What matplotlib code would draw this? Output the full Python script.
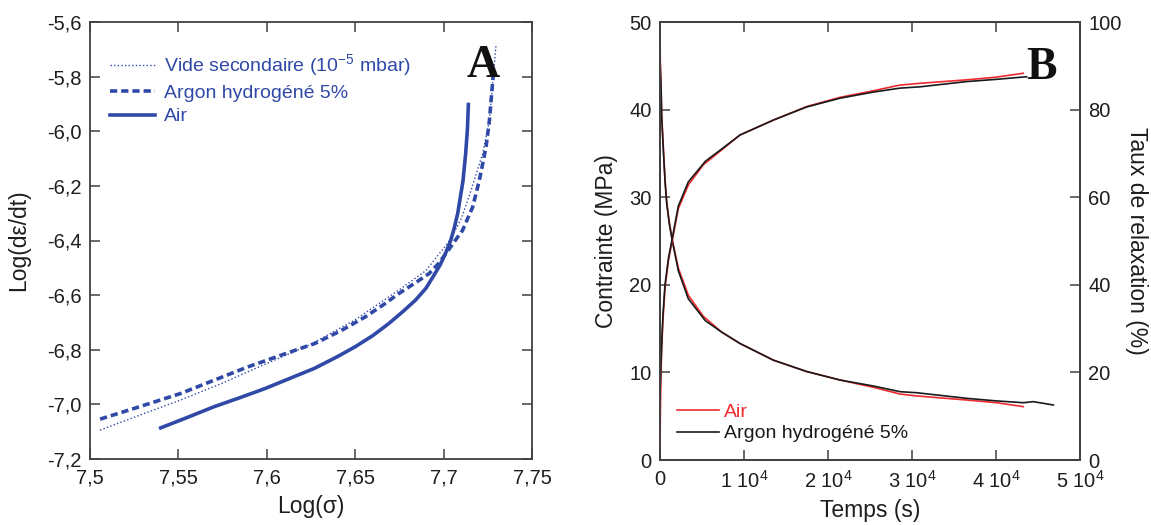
import matplotlib
matplotlib.use("Agg")
import matplotlib.pyplot as plt

plt.rcParams['font.family'] = ['Liberation Sans', 'DejaVu Sans']
plt.rcParams['mathtext.fontset'] = 'custom'
plt.rcParams['mathtext.rm'] = 'Liberation Sans'
plt.rcParams['mathtext.it'] = 'Liberation Sans:italic'

# ---------------- Panel A data ----------------
vide_x = [7.5057, 7.53, 7.5513, 7.575, 7.60, 7.625, 7.65, 7.675, 7.69, 7.7036, 7.71, 7.7149, 7.7221, 7.7259, 7.7297]
vide_y = [-7.094, -7.035, -6.984, -6.922, -6.850, -6.780, -6.690, -6.580, -6.510, -6.399, -6.32, -6.229, -6.082, -5.961, -5.680]

argon_x = [7.5057, 7.52, 7.535, 7.5513, 7.57, 7.5892, 7.608, 7.6272, 7.642, 7.6556, 7.666, 7.6747, 7.684,
           7.6918, 7.697, 7.7013, 7.706, 7.7107, 7.7164, 7.7202, 7.724, 7.7259, 7.7278, 7.728]
argon_y = [-7.054, -7.025, -6.994, -6.960, -6.912, -6.863, -6.820, -6.777, -6.730, -6.680, -6.635, -6.594, -6.555,
           -6.521, -6.485, -6.448, -6.405, -6.363, -6.278, -6.180, -6.058, -5.961, -5.814, -5.800]

air_x = [7.540, 7.555, 7.570, 7.585, 7.599, 7.613, 7.627, 7.640, 7.650, 7.660, 7.669, 7.677, 7.684, 7.690,
         7.694, 7.698, 7.701, 7.704, 7.706, 7.708, 7.7095, 7.711, 7.7125, 7.7135, 7.714]
air_y = [-7.086, -7.048, -7.009, -6.975, -6.942, -6.905, -6.868, -6.825, -6.789, -6.748, -6.704, -6.660, -6.619,
         -6.575, -6.533, -6.490, -6.448, -6.400, -6.355, -6.300, -6.240, -6.180, -6.080, -5.990, -5.902]

xticksA = [7.5, 7.55, 7.6, 7.65, 7.7, 7.75]
xlabelsA = ["7,5", "7,55", "7,6", "7,65", "7,7", "7,75"]
yticksA = [-7.2, -7.0, -6.8, -6.6, -6.4, -6.2, -6.0, -5.8, -5.6]
ylabelsA = ["-7,2", "-7,0", "-6,8", "-6,6", "-6,4", "-6,2", "-6,0", "-5,8", "-5,6"]

# ---------------- Panel B data ----------------
# stress (MPa) vs time (s)
t_air_s = [0, 40, 119, 198, 397, 600, 795, 1100, 1468, 2183, 3373, 5160, 7340, 9524, 13490, 17460, 21430,
           25390, 28570, 30560, 36510, 40000, 43250]
s_air = [48.5, 45.5, 43.2, 39.4, 35.6, 32.0, 29.5, 27.2, 25.1, 21.9, 18.8, 16.4, 14.6, 13.3, 11.4, 10.1, 9.13,
         8.30, 7.53, 7.31, 6.85, 6.55, 6.09]
t_ar_s = [0, 40, 119, 198, 397, 600, 795, 1100, 1468, 2183, 3373, 5400, 7340, 9524, 13490, 17460, 21430,
          25390, 28570, 30560, 36510, 40000, 43250, 44440, 46830]
s_ar = [46.0, 44.5, 42.8, 39.2, 35.4, 31.8, 29.3, 27.0, 25.0, 21.6, 18.4, 15.9, 14.6, 13.3, 11.4, 10.1, 9.13,
        8.45, 7.80, 7.68, 7.04, 6.75, 6.54, 6.66, 6.28]

# relaxation rate (%) vs time (s)
t_air_r = [0, 40, 100, 198, 350, 595, 1000, 1428, 2183, 3373, 5160, 7340, 9524, 13490, 17460, 21430, 25390,
           28570, 30950, 36510, 40000, 43250]
r_air = [2.0, 10.0, 18.0, 25.5, 32.0, 39.2, 45.5, 49.8, 57.4, 62.8, 67.4, 70.8, 74.2, 77.6, 80.7, 82.8, 84.3,
         85.6, 86.0, 86.8, 87.4, 88.3]
t_ar_r = [0, 40, 100, 198, 350, 595, 1000, 1428, 2183, 3373, 5400, 7340, 9524, 13490, 17460, 21430, 25390,
          28570, 30950, 36510, 40000, 43650]
r_ar = [14.0, 17.0, 21.0, 26.5, 33.0, 40.0, 46.0, 50.3, 58.0, 63.5, 68.2, 71.0, 74.2, 77.6, 80.6, 82.6, 84.0,
        84.9, 85.2, 86.4, 86.9, 87.5]

xticksB = [0, 10000, 20000, 30000, 40000, 50000]
xlabelsB = ["0", r"1 10$^{4}$", r"2 10$^{4}$", r"3 10$^{4}$", r"4 10$^{4}$", r"5 10$^{4}$"]

blue = "#3049a6"
red = "#ee2a2e"
black = "#1a1a1a"
spine_c = "#404040"
txt_c = "#1e1e1e"

fig = plt.figure(figsize=(11.51, 5.25), dpi=100)

def style(ax):
    for s in ax.spines.values():
        s.set_color(spine_c)
        s.set_linewidth(1.3)
    ax.tick_params(direction='in', length=7, width=1.1, colors=spine_c, labelcolor=txt_c, labelsize=14.5)

# ---------------- Panel A ----------------
axA = fig.add_axes([90/1151, 1-459/525, 442/1151, 437/525])
axA.plot(vide_x, vide_y, color=blue, lw=1.0, ls=(0, (1, 1.6)), label="Vide secondaire (10$^{\\mathrm{-5}}$ mbar)")
axA.plot(argon_x, argon_y, color=blue, lw=2.6, ls=(0, (2.0, 1.1)), label="Argon hydrogéné 5%")
axA.plot(air_x, air_y, color=blue, lw=2.6, label="Air")
axA.set_xlim(7.5, 7.75)
axA.set_ylim(-7.2, -5.6)
axA.set_xticks(xticksA)
axA.set_xticklabels(xlabelsA)
axA.set_yticks(yticksA)
axA.set_yticklabels(ylabelsA)
style(axA)
axA.tick_params(top=True, right=True)
axA.tick_params(axis='x', pad=7)
axA.tick_params(axis='y', pad=6)
axA.set_xlabel("Log(σ)", fontsize=16.5, color=txt_c, labelpad=5)
axA.set_ylabel("Log(dε/dt)", fontsize=16.5, color=txt_c, labelpad=12)
legA = axA.legend(loc='upper left', bbox_to_anchor=(0.045, 0.93), frameon=False, fontsize=14,
                  handlelength=2.3, handletextpad=0.5, labelspacing=0.3, borderaxespad=0, borderpad=0)
for txt in legA.get_texts():
    txt.set_color(blue)
axA.text(0.889, 0.8735, "A", transform=axA.transAxes, fontsize=33, fontweight='bold',
         family='Liberation Serif', ha='center', va='baseline', color='#111111')

# ---------------- Panel B ----------------
axB = fig.add_axes([660/1151, 1-460/525, 420/1151, 438/525])
axB.plot(t_air_s, s_air, color=red, lw=1.2, label="Air")
axB.plot(t_ar_s, s_ar, color=black, lw=1.2, label="Argon hydrogéné 5%")
axB.set_xlim(0, 50000)
axB.set_ylim(0, 50)
axB.set_xticks(xticksB)
axB.set_xticklabels(xlabelsB)
axB.set_yticks([0, 10, 20, 30, 40, 50])
style(axB)
axB.tick_params(top=True)
axB.tick_params(axis='x', pad=7)
axB.tick_params(axis='y', pad=6)
axB.set_xlabel("Temps (s)", fontsize=16.5, color=txt_c, labelpad=5)
axB.set_ylabel("Contrainte (MPa)", fontsize=16.5, color=txt_c, labelpad=8)

axR = axB.twinx()
axR.plot(t_air_r, r_air, color=red, lw=1.2)
axR.plot(t_ar_r, r_ar, color=black, lw=1.2)
axR.set_ylim(0, 100)
axR.set_yticks([0, 20, 40, 60, 80, 100])
style(axR)
axR.tick_params(axis='y', pad=6)
axR.set_ylabel("Taux de relaxation (%)", fontsize=16.5, color=txt_c, rotation=270, va='center')
axR.yaxis.set_label_coords(1.135, 0.5)

legB = axB.legend(loc='lower left', bbox_to_anchor=(0.04, 0.04), frameon=False, fontsize=14,
                  handlelength=2.15, handletextpad=0.3, labelspacing=0.2, borderaxespad=0, borderpad=0)
legB.get_texts()[0].set_color(red)
legB.get_texts()[1].set_color(black)
axB.text(0.909, 0.871, "B", transform=axB.transAxes, fontsize=33, fontweight='bold',
         family='Liberation Serif', ha='center', va='baseline', color='#111111')

fig.savefig("out.png", dpi=100)
